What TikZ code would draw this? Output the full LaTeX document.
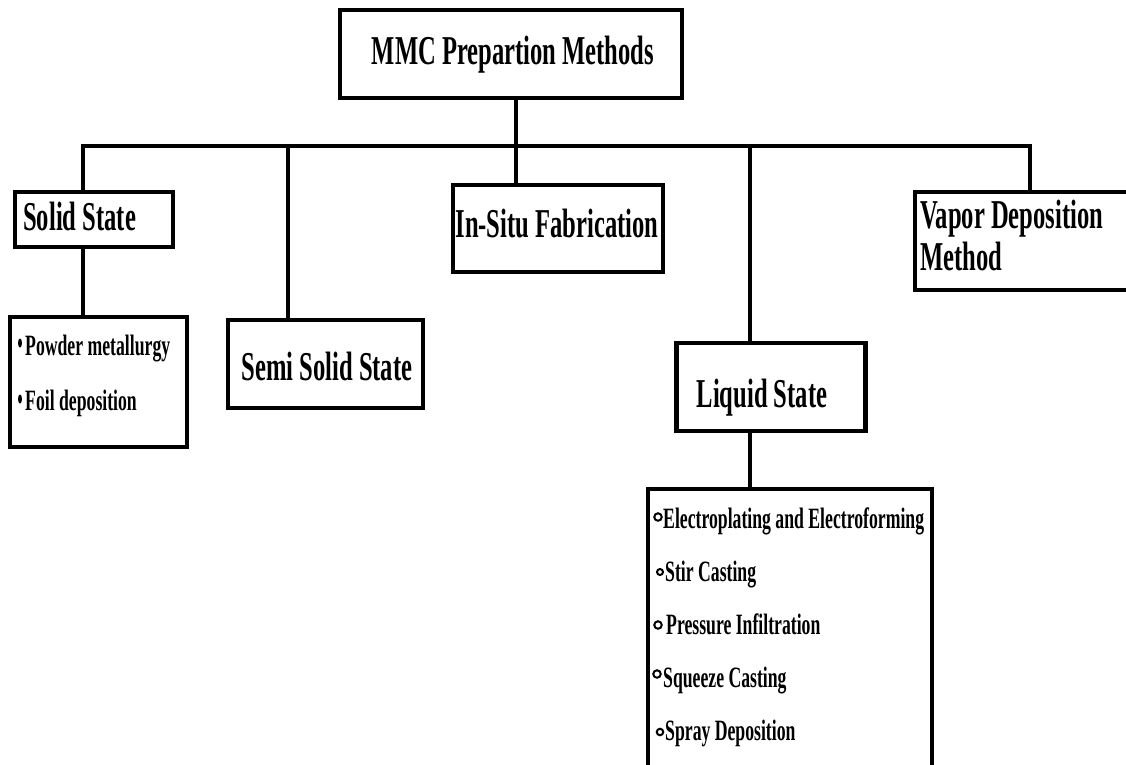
\documentclass[tikz,border=0pt]{standalone}
\usepackage{fontspec}
\usetikzlibrary{shapes.geometric}
\newfontfamily\cond{Liberation Serif}[FakeStretch=0.6, UprightFont={* Bold}, BoldFont={* Bold}]
\begin{document}
\begin{tikzpicture}[x=1pt,y=-1pt,
  box/.style={draw=black, line width=4.5pt, fill=white, inner sep=0pt},
  conn/.style={draw=black, line width=3.5pt},
  big/.style={inner sep=0pt, font=\cond\fontsize{41}{45}\selectfont},
  small/.style={inner sep=0pt, font=\cond\fontsize{29.5}{33}\selectfont},
  ring/.style={draw=black, line width=2pt, circle, inner sep=0pt, minimum size=7.5pt},
  dot/.style={fill=black, ellipse, inner sep=0pt, minimum width=4pt, minimum height=9pt}
]
\useasboundingbox (0,0) rectangle (1126,764);
\clip (0,0) rectangle (1126,764);

% bus coordinates
\coordinate (busL) at (83,146);
\coordinate (busSemi) at (288,146);
\coordinate (busTop) at (516,146);
\coordinate (busLiq) at (750,146);
\coordinate (busR) at (1030,146);

% boxes
\node[box, minimum width=342pt, minimum height=88pt] (top) at (511,54) {};
\node[box, minimum width=158pt, minimum height=55pt] (solid) at (94,219.5) {};
\node[box, minimum width=177pt, minimum height=130pt] (powder) at (98.5,382) {};
\node[box, minimum width=195pt, minimum height=88pt] (semi) at (325.5,364) {};
\node[box, minimum width=210pt, minimum height=87pt] (insitu) at (558,228.5) {};
\node[box, minimum width=189pt, minimum height=88pt] (liquid) at (771,387) {};
\node[box, minimum width=225pt, minimum height=98pt] (vapor) at (1027.5,241) {};
\node[box, minimum width=284pt, minimum height=291pt] (list) at (790,634.5) {};

% connectors
\draw[conn] (busL |- solid.north) -- (busL) -- (busR) -- (busR |- vapor.north);
\draw[conn] (top.south -| busTop) -- (busTop);
\draw[conn] (busSemi) -- (busSemi |- semi.north);
\draw[conn] (busTop) -- (busTop |- insitu.north);
\draw[conn] (busLiq) -- (busLiq |- liquid.north);
\draw[conn] (solid.south -| busL) -- (powder.north -| busL);
\draw[conn] (liquid.south -| busLiq) -- (list.north -| busLiq);

% labels
\node[big, anchor=base] (ttop) at (513,64) {MMC Prepartion Methods};
\node[big, anchor=base west] (tsolid) at (23,230) {Solid State};
\node[big, anchor=base] (tsemi) at (327,380) {Semi Solid State};
\node[big, anchor=base] (tinsitu) at (557,237) {In-Situ Fabrication};
\node[big, anchor=base] (tliquid) at (762,407) {Liquid State};
\node[big, anchor=base west] (tvapor1) at (920,228) {Vapor Deposition};
\node[big, anchor=base west] (tvapor2) at (920,270) {Method};

% solid state items
\node[dot] (b1) at (20,343) {};
\node[small, anchor=base west] (p1) at (25,355) {Powder metallurgy};
\node[dot] (b2) at (20,399) {};
\node[small, anchor=base west] (p2) at (25,410) {Foil deposition};

% liquid state items
\node[ring] (r1) at (658,517) {};
\node[small, anchor=base west] (l1) at (663,528) {Electroplating and Electroforming};
\node[ring, minimum size=6pt] (r2) at (660,572) {};
\node[small, anchor=base west] (l2) at (665,581) {Stir Casting};
\node[ring] (r3) at (658,625) {};
\node[small, anchor=base west] (l3) at (666,634) {Pressure Infiltration};
\node[ring] (r4) at (657,674) {};
\node[small, anchor=base west] (l4) at (663,687) {Squeeze Casting};
\node[ring, minimum size=6.5pt] (r5) at (660,732) {};
\node[small, anchor=base west] (l5) at (665,740) {Spray Deposition};
\end{tikzpicture}
\end{document}
